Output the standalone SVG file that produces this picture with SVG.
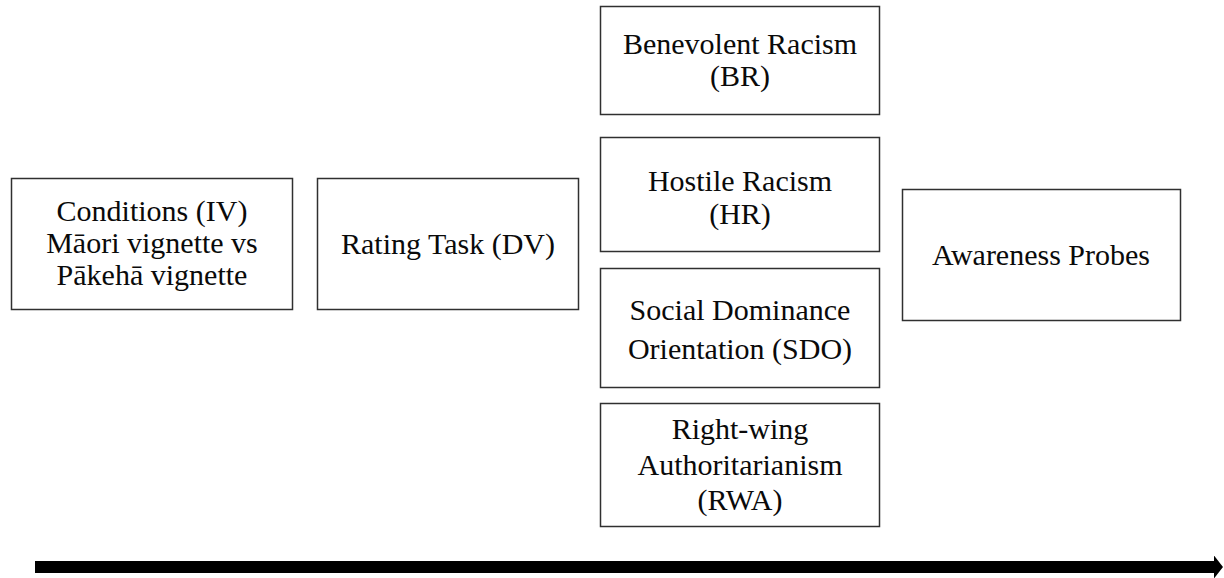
<svg xmlns="http://www.w3.org/2000/svg" width="1224" height="578" viewBox="0 0 1224 578">
  <style>
    .box { fill: #ffffff; stroke: #303030; stroke-width: 1.5; }
    .lbl { font-family: "Liberation Serif", "Times New Roman", serif; font-size: 30px; fill: #0a0a0a; text-anchor: middle; }
    .timeline { stroke: #000000; stroke-width: 12; fill: none; }
  </style>
  <defs>
    <marker id="head" markerUnits="userSpaceOnUse" markerWidth="10" markerHeight="24" refX="0" refY="11.5" orient="auto">
      <path d="M0,0 L9,11.5 L0,23 Z" fill="#000000"/>
    </marker>
  </defs>
  <rect width="1224" height="578" fill="#ffffff"/>

  <g id="conditions">
    <rect class="box" x="11.5" y="178.5" width="281" height="131"/>
    <text class="lbl" x="152" y="221">Conditions (IV)</text>
    <text class="lbl" x="152" y="253">Māori vignette vs</text>
    <text class="lbl" x="152" y="285">Pākehā vignette</text>
  </g>

  <g id="rating-task">
    <rect class="box" x="317.5" y="178.5" width="261" height="131"/>
    <text class="lbl" x="448" y="254">Rating Task (DV)</text>
  </g>

  <g id="benevolent-racism">
    <rect class="box" x="600.5" y="6.5" width="279" height="108"/>
    <text class="lbl" x="740" y="54">Benevolent Racism</text>
    <text class="lbl" x="740" y="86">(BR)</text>
  </g>

  <g id="hostile-racism">
    <rect class="box" x="600.5" y="137.5" width="279" height="114"/>
    <text class="lbl" x="740" y="191">Hostile Racism</text>
    <text class="lbl" x="740" y="224">(HR)</text>
  </g>

  <g id="sdo">
    <rect class="box" x="600.5" y="268.5" width="279" height="119"/>
    <text class="lbl" x="740" y="320">Social Dominance</text>
    <text class="lbl" x="740" y="359">Orientation (SDO)</text>
  </g>

  <g id="rwa">
    <rect class="box" x="600.5" y="403.5" width="279" height="123"/>
    <text class="lbl" x="740" y="439">Right-wing</text>
    <text class="lbl" x="740" y="475">Authoritarianism</text>
    <text class="lbl" x="740" y="510">(RWA)</text>
  </g>

  <g id="awareness-probes">
    <rect class="box" x="902.5" y="189.5" width="278" height="131"/>
    <text class="lbl" x="1041" y="265">Awareness Probes</text>
  </g>

  <g id="connectors">
    <line class="timeline" x1="35" y1="567" x2="1214" y2="567" marker-end="url(#head)"/>
  </g>
</svg>
